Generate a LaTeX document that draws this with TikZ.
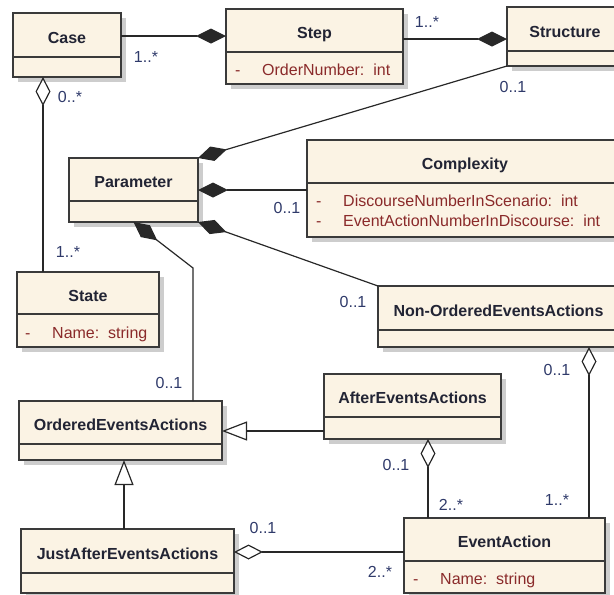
\documentclass[tikz,border=0pt]{standalone}
\usepackage{fontspec}
\setmainfont{Liberation Sans}
\usetikzlibrary{arrows.meta,shadows,calc}
\definecolor{cream}{RGB}{251,243,228}
\definecolor{boxline}{RGB}{58,58,58}
\definecolor{connline}{RGB}{40,40,40}
\definecolor{shadowgray}{RGB}{205,205,205}
\definecolor{titletext}{RGB}{34,36,52}
\definecolor{attrtext}{RGB}{138,42,42}
\definecolor{multtext}{RGB}{47,58,106}
\begin{document}
\begin{tikzpicture}[x=1pt,y=-1pt,
  cls/.style={draw=boxline, line width=1.3pt, fill=cream, anchor=north west, inner sep=0pt, outer sep=0pt,
    drop shadow={shadow xshift=5pt, shadow yshift=-5pt, opacity=1, fill=shadowgray}},
  divl/.style={draw=boxline, line width=1.2pt},
  ttl/.style={anchor=base, inner sep=0pt, font=\bfseries\fontsize{16}{18}\selectfont, text=titletext},
  attr/.style={anchor=base west, inner sep=0pt, font=\fontsize{16}{18}\selectfont, text=attrtext},
  mult/.style={inner sep=0pt, font=\fontsize{16}{18}\selectfont, text=multtext},
  conn/.style={draw=connline, line width=1.2pt},
  filledD/.style={conn, {Diamond[length=30pt,width=15pt,fill=connline]}-},
  openD/.style={conn, {Diamond[length=29pt,width=15pt,fill=white]}-},
  gen/.style={conn, -{Triangle[length=25pt,width=19pt,fill=white]}}
]
\useasboundingbox (0,0) rectangle (614,595);
\clip (0,0) rectangle (614,595);

% boxes
\node[cls, minimum width=108pt, minimum height=64pt] (case) at (13,13) {};
\node[cls, minimum width=177pt, minimum height=75pt] (step) at (226,9) {};
\node[cls, minimum width=116pt, minimum height=59pt] (struct) at (507,7) {};
\node[cls, minimum width=316pt, minimum height=97pt] (cplx) at (307,140) {};
\node[cls, minimum width=129pt, minimum height=64pt] (param) at (69,158) {};
\node[cls, minimum width=142pt, minimum height=75pt] (state) at (17,272) {};
\node[cls, minimum width=242pt, minimum height=61pt] (noea) at (378,286) {};
\node[cls, minimum width=203pt, minimum height=59pt] (oea) at (19,401) {};
\node[cls, minimum width=177pt, minimum height=65pt] (aea) at (324,374) {};
\node[cls, minimum width=213pt, minimum height=64pt] (jaea) at (21,529) {};
\node[cls, minimum width=201pt, minimum height=75pt] (ea) at (404,518) {};

% dividers
\draw[divl] (case.west |- 0,57) -- (case.east |- 0,57);
\draw[divl] (step.west |- 0,52) -- (step.east |- 0,52);
\draw[divl] (struct.west |- 0,51) -- (struct.east |- 0,51);
\draw[divl] (cplx.west |- 0,183) -- (cplx.east |- 0,183);
\draw[divl] (param.west |- 0,201) -- (param.east |- 0,201);
\draw[divl] (state.west |- 0,314) -- (state.east |- 0,314);
\draw[divl] (noea.west |- 0,330) -- (noea.east |- 0,330);
\draw[divl] (oea.west |- 0,444) -- (oea.east |- 0,444);
\draw[divl] (aea.west |- 0,417) -- (aea.east |- 0,417);
\draw[divl] (jaea.west |- 0,573) -- (jaea.east |- 0,573);
\draw[divl] (ea.west |- 0,561) -- (ea.east |- 0,561);

% titles
\node[ttl] (caseT) at (67,43) {Case};
\node[ttl] (stepT) at (314.5,38.5) {Step};
\node[ttl] (structT) at (565,37) {Structure};
\node[ttl] (cplxT) at (465,169.5) {Complexity};
\node[ttl] (paramT) at (133.5,187.5) {Parameter};
\node[ttl] (stateT) at (88,301) {State};
\node[ttl] (noeaT) at (498.5,316) {Non-OrderedEventsActions};
\node[ttl] (oeaT) at (120.5,430.5) {OrderedEventsActions};
\node[ttl] (aeaT) at (412.5,403.5) {AfterEventsActions};
\node[ttl] (jaeaT) at (127.5,559) {JustAfterEventsActions};
\node[ttl] (eaT) at (504.5,547.5) {EventAction};

% attributes
\node[attr] (stepD) at (235,75) {-};
\node[attr] (stepA) at (262,75) {OrderNumber:~~int};
\node[attr] (cplxD1) at (316,206) {-};
\node[attr] (cplxA1) at (343,206) {DiscourseNumberInScenario:~~int};
\node[attr] (cplxD2) at (316,226) {-};
\node[attr] (cplxA2) at (343,226) {EventActionNumberInDiscourse:~~int};
\node[attr] (stateD) at (25,338) {-};
\node[attr] (stateA) at (52,338) {Name:~~string};
\node[attr] (eaD) at (413,584) {-};
\node[attr] (eaA) at (440,584) {Name:~~string};

% connectors
\draw[filledD] (step.west |- 0,36) -- (case.east |- 0,36);
\draw[filledD] (struct.west |- 0,39) -- (step.east |- 0,39);
\draw[filledD] (param.north east) -- (struct.south west);
\draw[filledD] (param.east |- 0,190) -- (cplx.west |- 0,190);
\draw[filledD] (param.south east) -- (noea.north west);
\coordinate (bend) at (193,268);
\draw[filledD] (param.south) -- (bend) -- (bend |- oea.north);
\draw[openD] (case.south -| 43,0) -- (state.north -| 43,0);
\draw[gen] (aea.west |- 0,431) -- (oea.east |- 0,431);
\draw[gen] (jaea.north -| 124,0) -- (oea.south -| 124,0);
\draw[openD] (jaea.east |- 0,552) -- (ea.west |- 0,552);
\draw[openD] (aea.south -| 428,0) -- (ea.north -| 428,0);
\draw[openD] (noea.south -| 589,0) -- (ea.north -| 589,0);

% multiplicities
\node[mult] (m1) at (146,57) {1..*};
\node[mult] (m2) at (70,97) {0..*};
\node[mult] (m3) at (427,22) {1..*};
\node[mult] (m4) at (513,87) {0..1};
\node[mult] (m5) at (287,208) {0..1};
\node[mult] (m6) at (68,252) {1..*};
\node[mult] (m7) at (353,302) {0..1};
\node[mult] (m8) at (169,383) {0..1};
\node[mult] (m9) at (557,370) {0..1};
\node[mult] (m10) at (396,465) {0..1};
\node[mult] (m11) at (451,505) {2..*};
\node[mult] (m12) at (557,500) {1..*};
\node[mult] (m13) at (263,528) {0..1};
\node[mult] (m14) at (380,572) {2..*};
\end{tikzpicture}
\end{document}
